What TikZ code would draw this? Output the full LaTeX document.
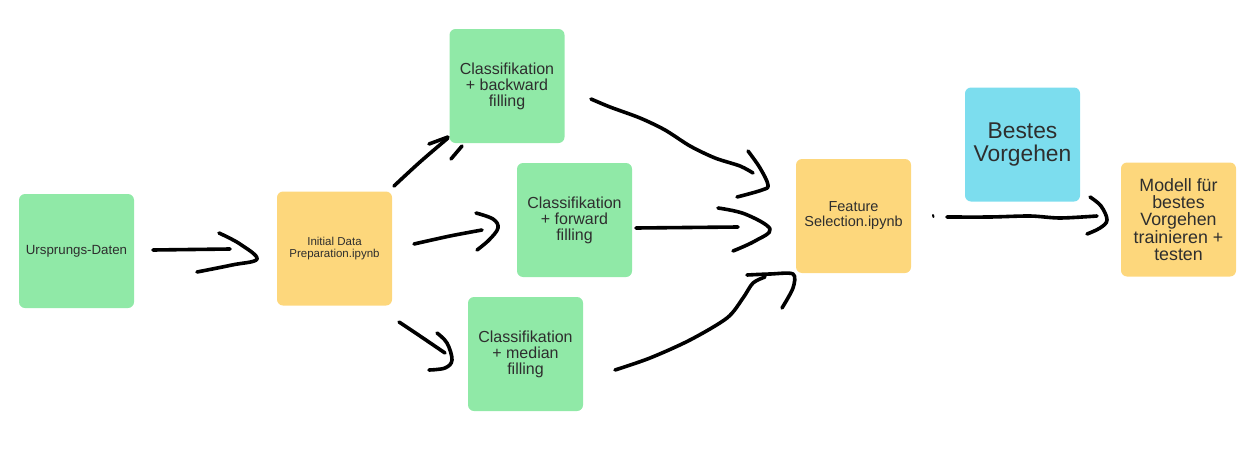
\documentclass[tikz,border=0pt]{standalone}
\usepackage{fontspec}
\setmainfont{Liberation Sans}
\definecolor{boxgreen}{HTML}{90E9A7}
\definecolor{boxyellow}{HTML}{FDD77C}
\definecolor{boxcyan}{HTML}{7CDDEE}
\definecolor{txt}{HTML}{2E2E2E}
\tikzset{
  card/.style={rectangle, rounded corners=6pt, minimum width=115pt, minimum height=114pt,
    inner sep=0pt, align=center, text=txt},
  greencard/.style={card, fill=boxgreen},
  yellowcard/.style={card, fill=boxyellow},
  cyancard/.style={card, fill=boxcyan},
  stroke/.style={draw=black, line width=3.6pt, line cap=round, line join=round},
}
\begin{document}
\begin{tikzpicture}[x=1pt,y=-1pt]
\useasboundingbox (0,0) rectangle (1258,455);
% hand-drawn arrows (under the cards)
% Ursprungs -> Initial
\draw[stroke] (153,250) -- (230,249);
\draw[stroke] plot[smooth,tension=0.6] coordinates {(219,233) (240,244) (257,259) (232,265) (197,272)};
% Initial -> backward
\draw[stroke] plot[smooth] coordinates {(394,186) (420,162) (448,138)};
\draw[stroke] (429,144) -- (448,137);
\draw[stroke] (462,146) -- (451,159);
% Initial -> forward
\draw[stroke] plot[smooth] coordinates {(414,244) (450,236) (482,230)};
\draw[stroke] plot[smooth,tension=0.6] coordinates {(476,213) (493,219) (498,228) (489,240) (477,250)};
% Initial -> median
\draw[stroke] plot[smooth] coordinates {(399,322) (420,336) (445,353)};
\draw[stroke] plot[smooth,tension=0.6] coordinates {(437,333) (447,343) (452,360) (445,368) (429,370)};
% backward -> Feature
\draw[stroke] plot[smooth] coordinates {(591,99) (610,107) (640,118) (665,130) (690,146) (715,158) (740,166) (753,173)};
\draw[stroke] plot[smooth,tension=0.6] coordinates {(748,151) (760,168) (768,185) (762,190) (737,197)};
% forward -> Feature
\draw[stroke] (636,228) -- (738,227);
\draw[stroke] plot[smooth,tension=0.6] coordinates {(718,208) (745,214) (770,229) (755,241) (733,251)};
% median -> Feature
\draw[stroke] plot[smooth] coordinates {(615,370) (650,358) (690,340) (727,318) (743,298) (753,283) (765,277)};
\draw[stroke] plot[smooth,tension=0.5] coordinates {(747,275) (770,274) (793,274) (793,288) (782,308)};
% Feature -> Modell
\draw[line width=2pt, line cap=round] (933,215) -- (933.5,217);
\draw[stroke] plot[smooth] coordinates {(947,217) (990,217) (1030,216) (1060,218) (1097,216)};
\draw[stroke] plot[smooth,tension=0.6] coordinates {(1090,197) (1101,206) (1107,220) (1100,228) (1087,234)};
% cards
\node[greencard, font={\fontsize{13.3}{15}\selectfont}] (ursprung) at (76.5,251) {Ursprungs-Daten};
\node[yellowcard, font={\fontsize{11.5}{12}\selectfont}] (initial) at (334.5,248.5) {Initial Data\\Preparation.ipynb};
\node[greencard, font={\fontsize{16}{16}\selectfont}] (backward) at (507,86) {Classifikation\\+ backward\\filling};
\node[greencard, font={\fontsize{16}{16}\selectfont}] (forward) at (574.5,220) {Classifikation\\+ forward\\filling};
\node[greencard, font={\fontsize{16}{16}\selectfont}] (median) at (525.5,354) {Classifikation\\+ median\\filling};
\node[yellowcard, font={\fontsize{14.5}{15}\selectfont}] (feature) at (853.5,216) {Feature\\Selection.ipynb};
\node[cyancard, font={\fontsize{22.8}{23}\selectfont}] (bestes) at (1022.5,144.5) {Bestes\\Vorgehen};
\node[yellowcard, font={\fontsize{17.8}{17.3}\selectfont}] (modell) at (1178.5,219.5) {Modell für\\bestes\\Vorgehen\\trainieren +\\testen};
\end{tikzpicture}
\end{document}
